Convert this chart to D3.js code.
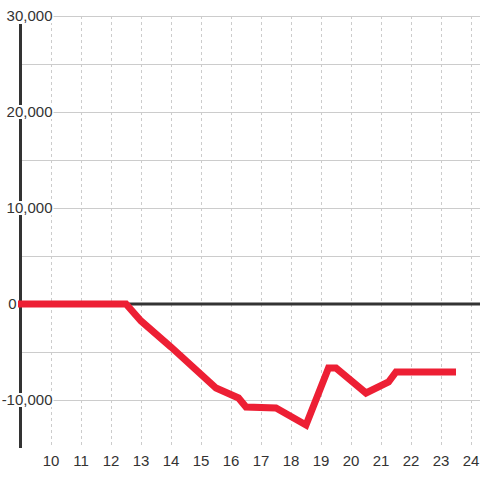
<!DOCTYPE html>
<html><head><meta charset="utf-8">
<script src="https://cdn.jsdelivr.net/npm/d3@7"></script>
<style>body{margin:0;background:#fff}svg{display:block}text{font-family:"Liberation Sans",Arial,sans-serif}</style>
</head><body>
<svg id="c" width="480" height="480"></svg>
<script>
const hours  = [8.9, 12.5, 13, 14, 15.5, 16.25, 16.5, 17.5, 18.5, 19.25, 19.5, 20.5, 21.25, 21.5, 23.5];
const values = [0, 0, -1770, -4480, -8750, -9790, -10730, -10830, -12600, -6670, -6670, -9270, -8125, -7080, -7080];
const xTicks = [10,11,12,13,14,15,16,17,18,19,20,21,22,23,24];
const yTicks = [30000, 20000, 10000, 0, -10000];
const yGrid  = [30000, 25000, 20000, 15000, 10000, 5000, -5000, -10000];

const svg = d3.select("#c");
const x = d3.scaleLinear().domain([8.5, 24]).range([6, 471]);
const y = d3.scaleLinear().domain([-15000, 30000]).range([448, 16]);

// horizontal grid
svg.append("g").selectAll("line").data(yGrid).join("line")
  .attr("x1", 20).attr("x2", 480).attr("y1", d => y(d)).attr("y2", d => y(d))
  .attr("stroke", "#ccc").attr("stroke-width", 1).attr("shape-rendering", "crispEdges");
// vertical dashed grid
svg.append("g").selectAll("line").data(xTicks).join("line")
  .attr("x1", d => x(d)).attr("x2", d => x(d)).attr("y1", 16).attr("y2", 448)
  .attr("stroke", "#ccc").attr("stroke-width", 1).attr("stroke-dasharray", "3,3")
  .attr("shape-rendering", "crispEdges");
// zero line
svg.append("line").attr("x1", 20).attr("x2", 480).attr("y1", y(0)).attr("y2", y(0))
  .attr("stroke", "#333").attr("stroke-width", 3);

// y axis line
svg.append("line").attr("x1", 20.5).attr("x2", 20.5).attr("y1", 24).attr("y2", 448)
  .attr("stroke", "#333").attr("stroke-width", 3);

// data line
const line = d3.line().x((d, i) => x(hours[i])).y(d => y(d));
svg.append("path").datum(values).attr("d", line)
  .attr("fill", "none").attr("stroke", "#ed1f34").attr("stroke-width", 7)
  .attr("stroke-linejoin", "miter").attr("stroke-linecap", "butt");

// y labels with background
const fmt = d3.format(",");
const yl = svg.append("g").selectAll("g").data(yTicks).join("g")
  .attr("transform", d => `translate(${d === 0 ? 16.5 : 52.5},${y(d)})`);
yl.append("text").attr("dy", "0.35em").attr("font-size", 15).attr("fill", "#333")
  .attr("text-anchor", "end")
  .text(d => d < 0 ? "-" + fmt(-d) : fmt(d));
yl.each(function() {
  const g = d3.select(this);
  const bb = g.select("text").node().getBBox();
  g.insert("rect", "text").attr("x", bb.x - 1).attr("y", -7).attr("width", bb.width + 2).attr("height", 14)
    .attr("fill", "#fff");
});

// x labels
svg.append("g").selectAll("text").data(xTicks).join("text")
  .attr("x", d => x(d)).attr("y", 466).attr("text-anchor", "middle")
  .attr("font-size", 15).attr("fill", "#333").text(d => d);
</script>
</body></html>
